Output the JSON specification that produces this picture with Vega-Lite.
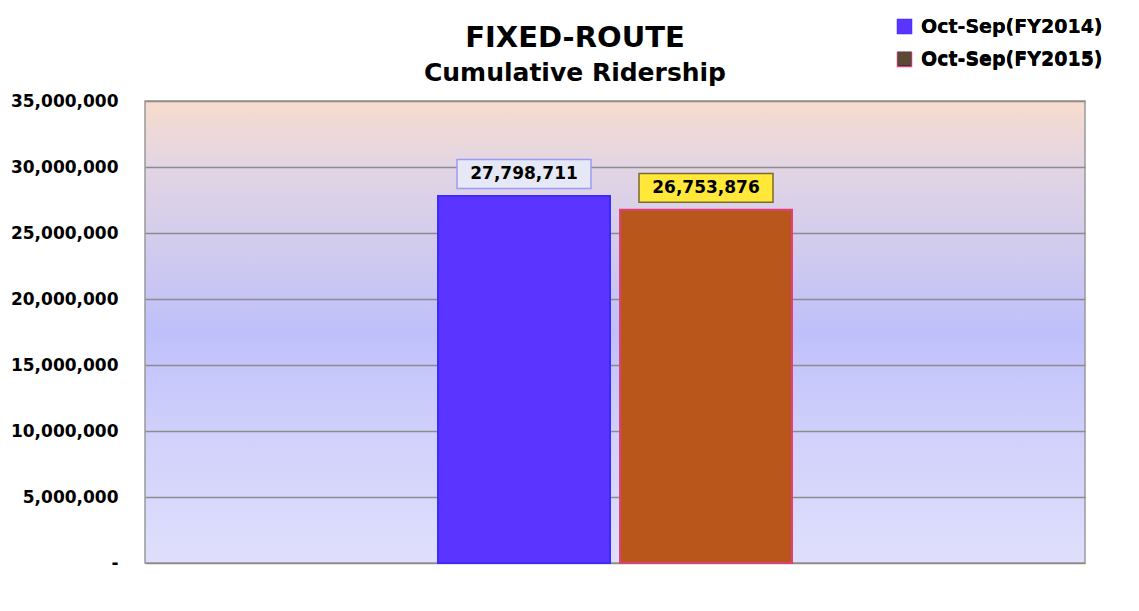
{
  "$schema": "https://vega.github.io/schema/vega-lite/v6.json",
  "width": 940,
  "height": 462,
  "autosize": "none",
  "padding": {"left": 145, "top": 101, "right": 54, "bottom": 48},
  "background": "white",
  "data": {
    "values": [
      {"series": "Oct-Sep(FY2014)", "value": 27798711},
      {"series": "Oct-Sep(FY2015)", "value": 26753876}
    ]
  },
  "title": {
    "text": "FIXED-ROUTE",
    "subtitle": "Cumulative Ridership",
    "anchor": "middle",
    "frame": "group",
    "dx": -40,
    "dy": 79,
    "offset": 10,
    "font": "DejaVu Sans",
    "fontSize": 29,
    "fontWeight": "bold",
    "color": "black",
    "subtitleFont": "DejaVu Sans",
    "subtitleFontSize": 25,
    "subtitleFontWeight": "bold",
    "subtitleColor": "black",
    "subtitlePadding": 8
  },
  "encoding": {
    "x": {
      "field": "series",
      "type": "nominal",
      "axis": null,
      "scale": {
        "domain": ["L", "Oct-Sep(FY2014)", "Oct-Sep(FY2015)", "R"],
        "paddingInner": 0.055,
        "paddingOuter": 0.61
      }
    },
    "y": {
      "field": "value",
      "type": "quantitative",
      "scale": {"domain": [0, 35000000], "nice": false},
      "axis": {
        "title": null,
        "values": [0, 5000000, 10000000, 15000000, 20000000, 25000000, 30000000, 35000000],
        "labelExpr": "datum.value == 0 ? '-\u00a0' : format(datum.value, ',d')",
        "labelFont": "DejaVu Sans",
        "labelFontSize": 17,
        "labelFontWeight": "bold",
        "labelColor": "black",
        "labelPadding": 27,
        "labelBaseline": "middle",
        "domain": false,
        "ticks": false,
        "grid": true,
        "gridColor": "#8c8c8c",
        "gridWidth": 1.5,
        "gridOpacity": 1
      }
    }
  },
  "layer": [
    {
      "mark": {"type": "bar", "strokeWidth": 2, "opacity": 1},
      "encoding": {
        "color": {
          "field": "series",
          "type": "nominal",
          "scale": {"domain": ["Oct-Sep(FY2014)", "Oct-Sep(FY2015)"], "range": ["#5b35ff", "#b8561c"]},
          "legend": null
        },
        "stroke": {
          "condition": {"test": "datum.series === 'Oct-Sep(FY2014)'", "value": "#3a2cff"},
          "value": "#e0407a"
        }
      }
    },
    {
      "mark": {
        "type": "point",
        "shape": "M-1,-0.216H1V0.216H-1Z",
        "size": 17956,
        "filled": true,
        "opacity": 1,
        "yOffset": -22,
        "strokeWidth": 1.5
      },
      "encoding": {
        "fill": {
          "condition": {"test": "datum.series === 'Oct-Sep(FY2014)'", "value": "#e6e8f5"},
          "value": "#ffe83a"
        },
        "stroke": {
          "condition": {"test": "datum.series === 'Oct-Sep(FY2014)'", "value": "#9a9cf5"},
          "value": "#7a6a30"
        }
      }
    },
    {
      "mark": {
        "type": "text",
        "yOffset": -22,
        "baseline": "middle",
        "align": "center",
        "font": "DejaVu Sans",
        "fontSize": 17,
        "fontWeight": "bold",
        "color": "black"
      },
      "encoding": {
        "text": {"field": "value", "type": "quantitative", "format": ",d"}
      }
    },
    {
      "mark": {"type": "text", "strokeWidth": 1.5},
      "encoding": {
        "text": {"value": ""},
        "color": {
          "field": "series",
          "type": "nominal",
          "scale": {"domain": ["Oct-Sep(FY2014)", "Oct-Sep(FY2015)"], "range": ["#5b35ff", "#5a4a35"]},
          "legend": {
            "title": null,
            "orient": "none",
            "legendX": 750,
            "legendY": -84,
            "symbolType": "square",
            "symbolSize": 196,
            "symbolStrokeWidth": 1.5,
            "labelFont": "DejaVu Sans",
            "labelFontSize": 19,
            "labelFontWeight": "bold",
            "labelColor": "black",
            "labelOffset": 7,
            "labelLimit": 400,
            "rowPadding": 12
          }
        },
        "stroke": {
          "field": "series",
          "type": "nominal",
          "scale": {"domain": ["Oct-Sep(FY2014)", "Oct-Sep(FY2015)"], "range": ["#3a30ff", "#e0408a"]},
          "legend": {
            "title": null,
            "orient": "none",
            "legendX": 750,
            "legendY": -84,
            "symbolType": "square",
            "symbolSize": 196,
            "symbolStrokeWidth": 1.5,
            "labelFont": "DejaVu Sans",
            "labelFontSize": 19,
            "labelFontWeight": "bold",
            "labelColor": "black",
            "labelOffset": 7,
            "labelLimit": 400,
            "rowPadding": 12
          }
        }
      }
    }
  ],
  "resolve": {"scale": {"color": "independent"}},
  "config": {
    "view": {
      "stroke": "#999999",
      "strokeWidth": 1.5,
      "fill": {
        "gradient": "linear",
        "x1": 0, "y1": 0, "x2": 0, "y2": 1,
        "stops": [
          {"offset": 0, "color": "#f8dccd"},
          {"offset": 0.14, "color": "#e2d5e3"},
          {"offset": 0.28, "color": "#d5cdeb"},
          {"offset": 0.5, "color": "#bfc0fb"},
          {"offset": 0.72, "color": "#d0d0fb"},
          {"offset": 1, "color": "#dfdffc"}
        ]
      }
    }
  }
}
